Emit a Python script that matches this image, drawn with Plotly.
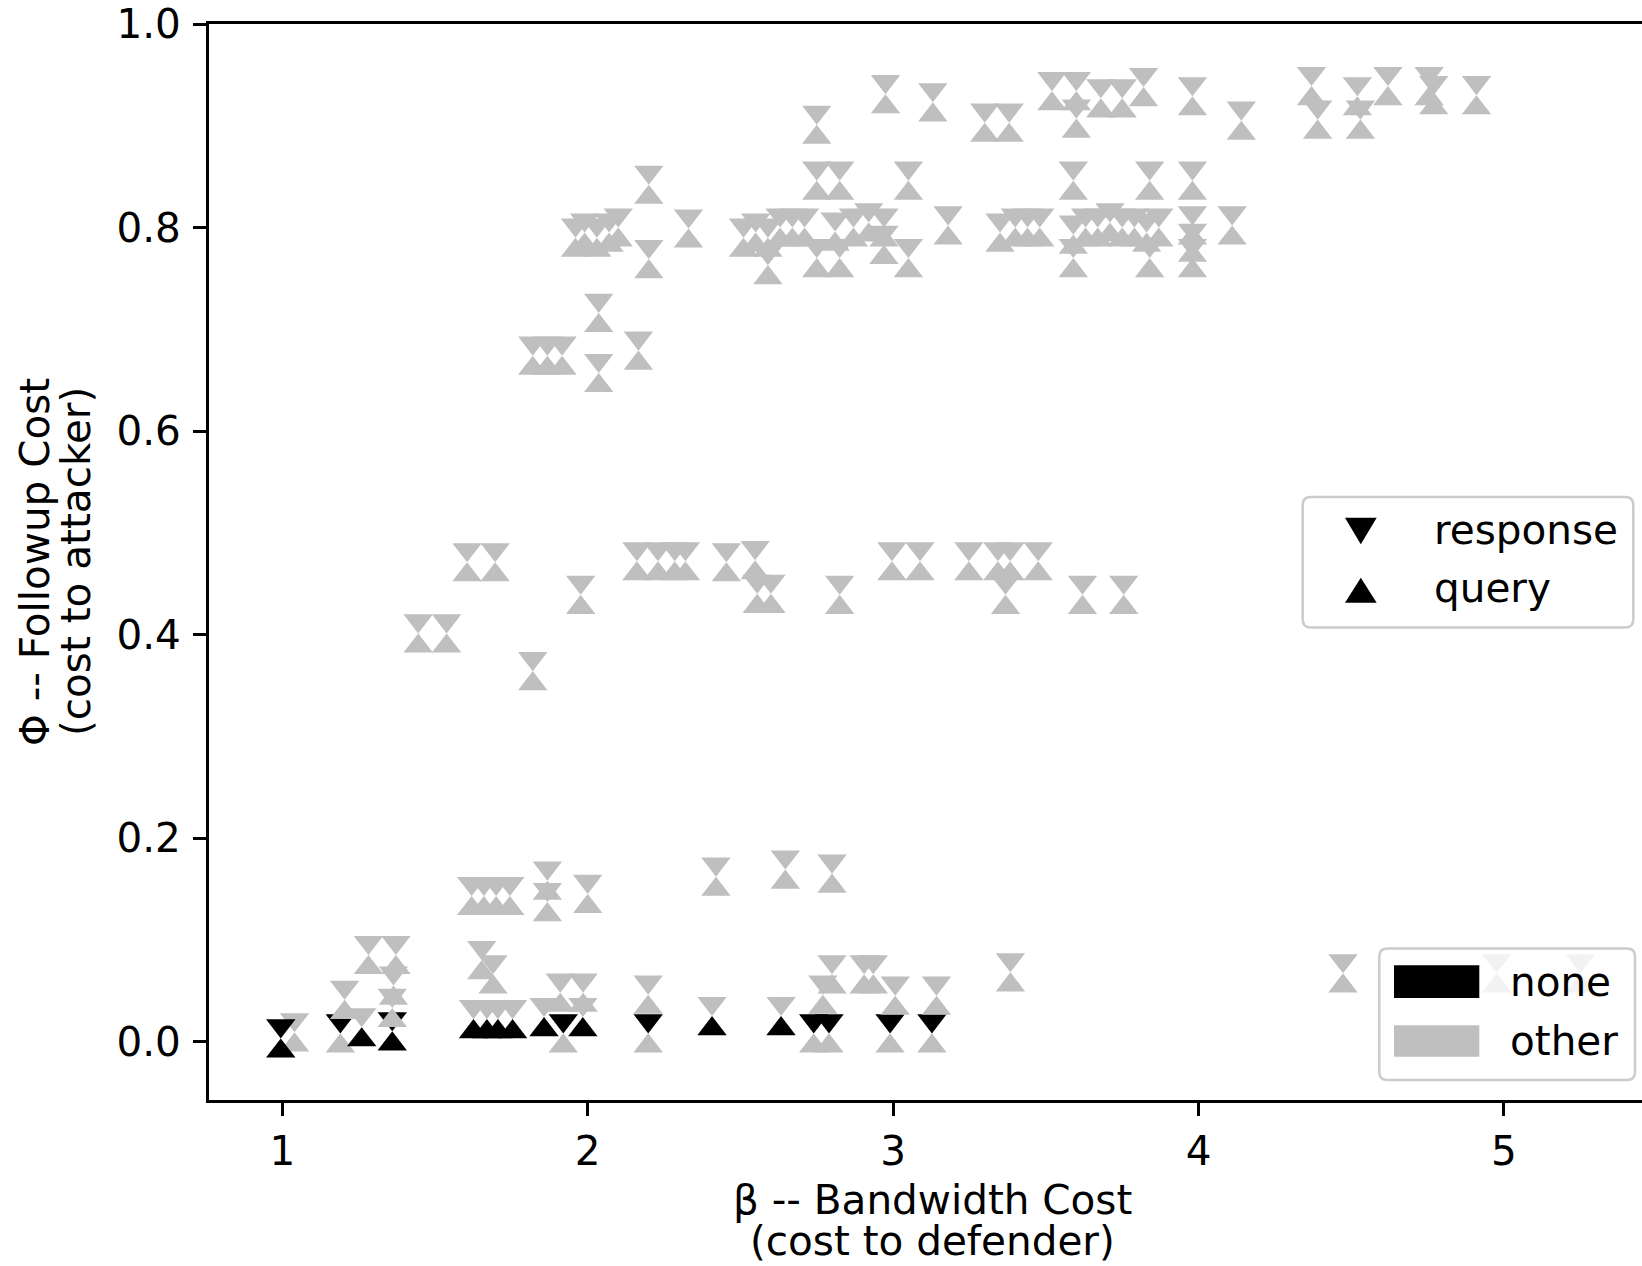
import plotly.graph_objects as go

# ---------------- data ----------------
# configurations where both response and query are "other" (grey hourglass)
beta_both = [2.75, 2.975, 3.13, 3.30, 3.38, 3.52, 3.60, 3.60, 3.68, 3.75, 3.82, 3.98, 4.14,
             4.37, 4.39, 4.52, 4.53, 4.62, 4.755, 4.77, 4.91,
             2.20, 2.75, 2.825, 3.05, 3.59, 3.84, 3.98,
             1.96, 1.99, 2.03, 2.07, 2.10, 2.20, 2.33,
             2.51, 2.55, 2.59, 2.63, 2.67, 2.71, 2.59, 2.75, 2.825, 2.81, 2.87, 2.92, 2.97, 2.97,
             3.05, 3.18, 3.35, 3.40, 3.44, 3.48,
             3.59, 3.63, 3.67, 3.71, 3.75, 3.79, 3.83, 3.87, 3.59, 3.84,
             3.98, 3.98, 3.98, 4.11,
             1.82, 1.868, 1.916, 2.036, 2.036, 2.166,
             1.445, 1.538, 1.605, 1.697, 1.82, 1.977, 2.161, 2.23, 2.285, 2.32, 2.454,
             2.548, 2.555, 2.60, 2.825, 2.996, 3.088, 3.248, 3.343, 3.383, 3.475, 3.368,
             3.62, 3.755,
             1.62, 1.66, 1.70, 1.745, 1.868, 1.868, 2.00, 2.42, 2.647, 2.80,
             1.282, 1.372, 1.204, 1.364, 1.36, 1.653, 1.69, 1.91, 1.985, 2.198,
             2.77, 2.80, 2.905, 2.935, 3.007, 3.142, 3.384, 4.473, 4.976, 5.25, 1.04]
phi_both = [0.901, 0.931, 0.923, 0.903, 0.903, 0.934, 0.934, 0.907, 0.927, 0.927, 0.938, 0.929, 0.905,
            0.939, 0.906, 0.929, 0.906, 0.939, 0.939, 0.930, 0.930,
            0.842, 0.846, 0.846, 0.846, 0.846, 0.846, 0.846,
            0.790, 0.795, 0.790, 0.795, 0.800, 0.769, 0.799,
            0.790, 0.795, 0.790, 0.800, 0.800, 0.800, 0.763, 0.770, 0.770, 0.796, 0.800, 0.805, 0.800, 0.783,
            0.770, 0.802, 0.795, 0.800, 0.800, 0.800,
            0.793, 0.800, 0.800, 0.805, 0.800, 0.800, 0.795, 0.800, 0.770, 0.770,
            0.802, 0.785, 0.770, 0.802,
            0.674, 0.674, 0.674, 0.716, 0.657, 0.679,
            0.401, 0.401, 0.471, 0.471, 0.364, 0.439, 0.472, 0.472, 0.472, 0.472, 0.471,
            0.473, 0.440, 0.440, 0.439, 0.472, 0.472, 0.472, 0.472, 0.472, 0.472, 0.439,
            0.439, 0.439,
            0.143, 0.143, 0.143, 0.143, 0.158, 0.137, 0.145, 0.162, 0.169, 0.165,
            0.085, 0.085, 0.041, 0.055, 0.033, 0.080, 0.066, 0.048, 0.048, 0.046,
            0.046, 0.066, 0.066, 0.066, 0.045, 0.045, 0.068, 0.067, 0.067, 0.067, 0.009]

# response = none (black), query = other (grey)
beta_rnone = [1.19, 1.92, 2.198, 2.74, 2.79, 2.99, 3.127]
phi_rnone = [0.008, 0.008, 0.008, 0.008, 0.008, 0.008, 0.008]

# query = none (black), response = other (grey)
beta_qnone = [1.26, 1.626, 1.67, 1.706, 1.754, 1.857, 1.984, 2.407, 2.633]
phi_qnone = [0.014, 0.022, 0.022, 0.022, 0.022, 0.024, 0.024, 0.025, 0.025]

# both none (black)
beta_bnone = [0.995, 1.36]
phi_bnone = [0.003, 0.010]

x_ticks = [1, 2, 3, 4, 5]
y_ticks = [0.0, 0.2, 0.4, 0.6, 0.8, 1.0]

x_title = ["β -- Bandwidth Cost", "(cost to defender)"]
y_title = ["Φ -- Followup Cost", "(cost to attacker)"]
legend_marker_labels = ["response", "query"]
legend_color_labels = ["none", "other"]

# ---------------- layout constants ----------------
W, H = 1642, 1266
P_L, P_T, P_R, P_B = 209, 22, 1642, 1100   # plot area in page pixels
L, T, R, B = P_L, P_T, W - P_R, H - P_B
X_RANGE = [0.76, 5.452]
Y_RANGE = [-0.0575, 1.0]
MS = 25.5
GRAY = "#bfbfbf"
FONT = "DejaVu Sans"
FS = 40.5

plot_w = P_R - P_L
plot_h = P_B - P_T
# triangles are drawn with their apex on the data point (matplotlib-like look):
# the overlay axes are shifted by one marker radius in pixels.
shift = (MS / 2) / plot_h * (Y_RANGE[1] - Y_RANGE[0])
Y_DOWN = [Y_RANGE[0] - shift, Y_RANGE[1] - shift]   # triangle-down (drawn above point)
Y_UP = [Y_RANGE[0] + shift, Y_RANGE[1] + shift]     # triangle-up (drawn below point)

fig = go.Figure()
fig.add_trace(go.Scatter(x=[], y=[], showlegend=False, hoverinfo="skip"))

resp_other_x = beta_both + beta_qnone
resp_other_y = phi_both + phi_qnone
query_other_x = beta_both + beta_rnone
query_other_y = phi_both + phi_rnone
resp_none_x = beta_rnone + beta_bnone
resp_none_y = phi_rnone + phi_bnone
query_none_x = beta_qnone + beta_bnone
query_none_y = phi_qnone + phi_bnone

fig.add_trace(go.Scatter(x=resp_other_x, y=resp_other_y, mode="markers", yaxis="y2",
                         marker=dict(symbol="triangle-down", size=MS, color=GRAY, line=dict(width=0)),
                         name="response other", showlegend=False))
fig.add_trace(go.Scatter(x=query_other_x, y=query_other_y, mode="markers", yaxis="y3",
                         marker=dict(symbol="triangle-up", size=MS, color=GRAY, line=dict(width=0)),
                         name="query other", showlegend=False))
fig.add_trace(go.Scatter(x=resp_none_x, y=resp_none_y, mode="markers", yaxis="y2",
                         marker=dict(symbol="triangle-down", size=MS, color="black", line=dict(width=0)),
                         name="response none", showlegend=False))
fig.add_trace(go.Scatter(x=query_none_x, y=query_none_y, mode="markers", yaxis="y3",
                         marker=dict(symbol="triangle-up", size=MS, color="black", line=dict(width=0)),
                         name="query none", showlegend=False))


def px(x):
    return (x - P_L) / plot_w


def py(y):
    return (P_B - y) / plot_h


def rrect(x0, y0, x1, y1, r):
    pts = [("M", x0 + r, y0), ("L", x1 - r, y0), ("Q", x1, y0, x1, y0 + r), ("L", x1, y1 - r),
           ("Q", x1, y1, x1 - r, y1), ("L", x0 + r, y1), ("Q", x0, y1, x0, y1 - r),
           ("L", x0, y0 + r), ("Q", x0, y0, x0 + r, y0)]
    s = ""
    for p in pts:
        cmd = p[0]
        coords = p[1:]
        parts = []
        for i in range(0, len(coords), 2):
            parts.append(f"{px(coords[i]):.5f},{py(coords[i+1]):.5f}")
        s += cmd + " ".join(parts) + " "
    return s + "Z"


def poly(points):
    return "M" + " L".join(f"{px(a):.5f},{py(b):.5f}" for a, b in points) + " Z"


shapes = [
    dict(type="path", xref="paper", yref="paper", path=rrect(1302.7, 496, 1633.3, 626.7, 8),
         fillcolor="rgba(255,255,255,0.8)", line=dict(color="#cccccc", width=2.5), layer="above"),
    dict(type="path", xref="paper", yref="paper",
         path=poly([(1345, 516.7), (1376.7, 516.7), (1360.8, 543.3)]),
         fillcolor="black", line=dict(width=0), layer="above"),
    dict(type="path", xref="paper", yref="paper",
         path=poly([(1345, 601.7), (1376.7, 601.7), (1360.8, 576.7)]),
         fillcolor="black", line=dict(width=0), layer="above"),
    dict(type="path", xref="paper", yref="paper", path=rrect(1379.3, 948.3, 1635, 1080, 8),
         fillcolor="rgba(255,255,255,0.8)", line=dict(color="#cccccc", width=2.5), layer="above"),
    dict(type="rect", xref="paper", yref="paper", x0=px(1394), x1=px(1479.3), y0=py(997.7), y1=py(965),
         fillcolor="black", line=dict(width=0), layer="above"),
    dict(type="rect", xref="paper", yref="paper", x0=px(1394), x1=px(1479.3), y0=py(1056.7), y1=py(1025),
         fillcolor=GRAY, line=dict(width=0), layer="above"),
]

annots = []
for txt, x, y in [(legend_marker_labels[0], 1432, 528.5), (legend_marker_labels[1], 1432, 587),
                  (legend_color_labels[0], 1508, 981.5), (legend_color_labels[1], 1508, 1041)]:
    annots.append(dict(text=txt, xref="paper", yref="paper", x=px(x), y=py(y),
                       xanchor="left", yanchor="middle", showarrow=False,
                       font=dict(family=FONT, size=FS, color="black")))

# axis titles (two lines each, placed like the reference)
for txt, y in [(x_title[0], 1200), (x_title[1], 1241)]:
    annots.append(dict(text=txt, xref="paper", yref="paper", x=px(932), y=py(y),
                       xanchor="center", yanchor="middle", showarrow=False,
                       font=dict(family=FONT, size=FS, color="black")))
for txt, x in [(y_title[0], 35), (y_title[1], 76)]:
    annots.append(dict(text=txt, xref="paper", yref="paper", x=px(x), y=py(561),
                       xanchor="center", yanchor="middle", showarrow=False, textangle=-90,
                       font=dict(family=FONT, size=FS, color="black")))

axis_common = dict(showgrid=False, zeroline=False, showline=True, linecolor="black", linewidth=3,
                   ticks="outside", ticklen=13, tickwidth=3, tickcolor="black",
                   ticklabeloverflow="allow",
                   tickfont=dict(family=FONT, size=FS, color="black"))

fig.update_layout(
    width=W, height=H,
    margin=dict(l=L, r=R, t=T, b=B, pad=0),
    plot_bgcolor="white", paper_bgcolor="white",
    showlegend=False,
    font=dict(family=FONT, size=FS, color="black"),
    xaxis=dict(range=X_RANGE, tickvals=x_ticks, ticktext=[str(v) for v in x_ticks], mirror=True,
               ticklabelstandoff=0, **axis_common),
    yaxis=dict(range=Y_RANGE, tickvals=y_ticks, ticktext=[f"{v:.1f}" for v in y_ticks], mirror=False,
               ticklabelstandoff=4, **axis_common),
    yaxis2=dict(range=Y_DOWN, overlaying="y", visible=False, anchor="x"),
    yaxis3=dict(range=Y_UP, overlaying="y", visible=False, anchor="x"),
    shapes=shapes,
    annotations=annots,
)

# remove the browser's default 8px body margin so the figure sits at the page origin
fig.write_html("out.html", config={"displayModeBar": False},
               post_script="document.body.style.margin='0';")
